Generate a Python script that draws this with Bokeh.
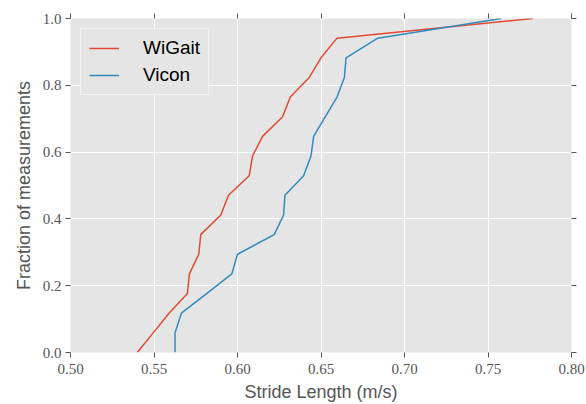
from bokeh.plotting import figure
from bokeh.models import Range1d, FixedTicker, PrintfTickFormatter, LinearAxis, Legend, LegendItem
from bokeh.embed import file_html
from bokeh.resources import INLINE

# ECDF fractions (17 measurements)
fractions = [i / 17 for i in range(18)]
wigait = [0.540, 0.5495, 0.559, 0.570, 0.5712, 0.5768, 0.578, 0.590, 0.5946,
          0.607, 0.609, 0.615, 0.627, 0.6316, 0.643, 0.650, 0.6596, 0.777]
vicon = [0.5626, 0.5626, 0.5664, 0.5815, 0.5966, 0.600, 0.622, 0.6276, 0.6284,
         0.6396, 0.644, 0.6456, 0.6526, 0.6596, 0.664, 0.665, 0.684, 0.758]
x_ticks = [0.50, 0.55, 0.60, 0.65, 0.70, 0.75, 0.80]
y_ticks = [0.0, 0.2, 0.4, 0.6, 0.8, 1.0]

RED = "#E24A33"
BLUE = "#348ABD"
TICK = "#555555"

p = figure(frame_width=501, frame_height=334, output_backend="svg", toolbar_location=None,
           x_range=Range1d(0.5, 0.8), y_range=Range1d(0.0, 1.0),
           min_border_left=70, min_border_right=15, min_border_top=18, min_border_bottom=52,
           background_fill_color="#E5E5E5", border_fill_color="white", outline_line_color=None)

r1 = p.line(wigait, fractions, line_color=RED, line_width=1.5)
r2 = p.line(vicon, fractions, line_color=BLUE, line_width=1.5)

for ax in (p.xaxis[0], p.yaxis[0]):
    ax.axis_line_color = None
    ax.major_tick_in = 0
    ax.major_tick_out = 5
    ax.major_tick_line_color = TICK
    ax.minor_tick_line_color = None
    ax.major_label_text_font = "Liberation Serif"
    ax.major_label_text_font_size = "15px"
    ax.major_label_text_color = TICK
    ax.axis_label_text_font = "Liberation Sans"
    ax.axis_label_text_font_size = "18px"
    ax.axis_label_text_font_style = "normal"
    ax.axis_label_text_color = TICK

p.xaxis[0].ticker = FixedTicker(ticks=x_ticks)
p.yaxis[0].ticker = FixedTicker(ticks=y_ticks)
p.xaxis[0].formatter = PrintfTickFormatter(format="%.2f")
p.yaxis[0].formatter = PrintfTickFormatter(format="%.1f")
p.xaxis[0].axis_label = "Stride Length (m/s)"
p.yaxis[0].axis_label = "Fraction of measurements"
p.xaxis[0].major_label_standoff = 6
p.yaxis[0].major_label_standoff = 4
p.xaxis[0].axis_label_standoff = 5
p.yaxis[0].axis_label_standoff = 6

top = LinearAxis(ticker=FixedTicker(ticks=x_ticks), axis_line_color=None, major_tick_in=0,
                 major_tick_out=5, major_tick_line_color=TICK, minor_tick_line_color=None,
                 major_label_overrides={t: "" for t in x_ticks}, major_label_standoff=0)
right = LinearAxis(ticker=FixedTicker(ticks=y_ticks), axis_line_color=None, major_tick_in=0,
                   major_tick_out=5, major_tick_line_color=TICK, minor_tick_line_color=None,
                   major_label_overrides={t: "" for t in y_ticks}, major_label_standoff=0)
p.add_layout(top, "above")
p.add_layout(right, "right")

p.xgrid.ticker = FixedTicker(ticks=x_ticks)
p.ygrid.ticker = FixedTicker(ticks=y_ticks)
p.grid.grid_line_color = "white"
p.grid.grid_line_width = 1

legend = Legend(items=[LegendItem(label="WiGait", renderers=[r1]),
                       LegendItem(label="Vicon", renderers=[r2])],
                location="top_left")
legend.label_text_font = "Liberation Sans"
legend.label_text_font_size = "19px"
legend.label_text_color = "black"
legend.background_fill_color = "#E5E5E5"
legend.background_fill_alpha = 1
legend.border_line_color = "white"
legend.border_line_width = 1.5
legend.glyph_width = 30
legend.glyph_height = 22
legend.label_standoff = 24
legend.label_height = 22
legend.spacing = 5
legend.padding = 8
legend.margin = 10
p.add_layout(legend)

open("out.html", "w").write(file_html(p, INLINE))
